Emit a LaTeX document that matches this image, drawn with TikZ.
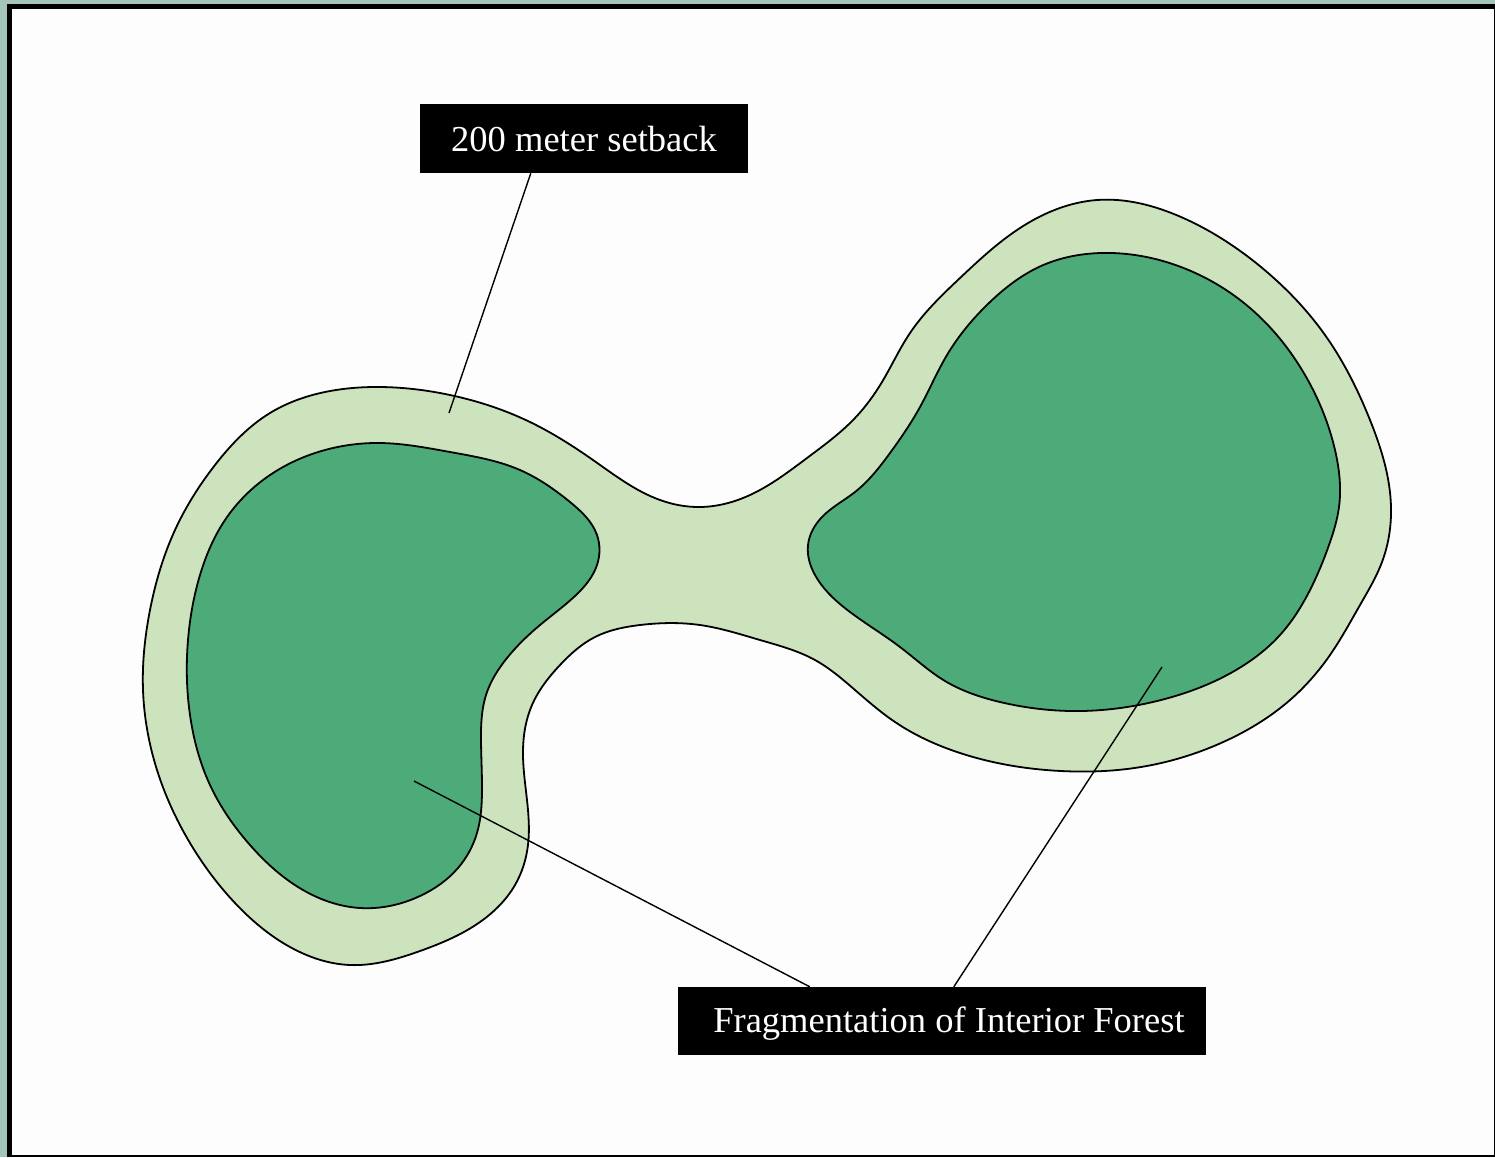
\documentclass[tikz,border=0pt]{standalone}
\usepackage{fontspec}
\setmainfont{Liberation Serif}
\usetikzlibrary{calc,hobby}
\definecolor{frameteal}{HTML}{A4C6B8}
\definecolor{paper}{HTML}{FDFDFD}
\definecolor{setbackgreen}{HTML}{CDE3BE}
\definecolor{forestgreen}{HTML}{4DAB7A}
\tikzset{
  outline/.style={draw=black, line width=1.8pt, line join=round, use Hobby shortcut, closed=true},
  leader/.style={draw=black, line width=1.4pt},
  labelbox/.style={fill=black, text=white, inner sep=0pt, font=\fontsize{36.5}{42}\selectfont},
}
\begin{document}
\begin{tikzpicture}[x=1pt, y=-1pt]
\useasboundingbox (0,0) rectangle (1495,1157);
\fill[frameteal] (0,0) rectangle (1495,1157);
\fill[black] (7,4) rectangle (1495,1157);
\fill[paper] (12,9) rectangle (1494,1155);

% setback zone (outer band)
\draw[outline, fill=setbackgreen]
 (380,387) .. (450,395) .. (530,422) .. (593,460) .. (660,500) .. (700,507) .. (750,495) .. (807,458)
 .. (855,418) .. (882,382) .. (910,333) .. (960,278) .. (1020,228) .. (1097,200) .. (1181,217)
 .. (1261,267) .. (1325,335) .. (1370,420) .. (1391,507) .. (1382,562) .. (1360,605) .. (1330,655)
 .. (1290,700) .. (1221,743) .. (1141,767) .. (1061,771) .. (960,753) .. (895,722) .. (855,690) .. (815,660)
 .. (760,640) .. (700,625) .. (640,625) .. (595,637) .. (560,665) .. (532,705) .. (523,750) .. (527,800)
 .. (528,845) .. (515,885) .. (480,922) .. (420,951) .. (350,965) .. (290,947) .. (235,903) .. (190,843)
 .. (157,770) .. (143,690) .. (150,610) .. (175,530) .. (215,465) .. (270,413) .. (325,392);

% interior forest, left
\draw[outline, fill=forestgreen]
 (380,443) .. (450,452) .. (520,470) .. (570,502) .. (597,535) .. (597,565) .. (575,596) .. (540,625)
 .. (507,658) .. (486,695) .. (481,740) .. (482,790) .. (477,833) .. (458,868) .. (420,896) .. (360,908)
 .. (303,890) .. (250,845) .. (210,785) .. (190,715) .. (188,640) .. (200,575) .. (225,520) .. (270,475)
 .. (325,450);

% interior forest, right
\draw[outline, fill=forestgreen]
 (1101,253) .. (1181,267) .. (1250,308) .. (1305,375) .. (1335,450) .. (1339,507) .. (1329,545)
 .. (1310,590) .. (1280,635) .. (1241,667) .. (1161,700) .. (1081,711) .. (1000,702) .. (945,681) .. (900,647)
 .. (850,612) .. (818,580) .. (808,545) .. (822,517) .. (855,492) .. (890,453) .. (920,407) .. (947,355)
 .. (990,302) .. (1041,266);

% labels
\node[labelbox, minimum width=328pt, minimum height=69pt] (setback) at (584,138.5) {\raisebox{-1pt}[\height][\depth]{200 meter setback}};
\node[labelbox, minimum width=528pt, minimum height=68pt] (frag) at (942,1021) {\hspace*{14pt}\raisebox{-3pt}[\height][\depth]{Fragmentation of Interior Forest}};

% leader end points
\coordinate (bandpt) at (449,413);
\coordinate (leftpt) at (414,781);
\coordinate (rightpt) at (1162,667);

\draw[leader] ($(setback.south west)+(111,0)$) -- (bandpt);
\draw[leader] ($(frag.north west)+(132,0)$) -- (leftpt);
\draw[leader] ($(frag.north west)+(276,0)$) -- (rightpt);
\end{tikzpicture}
\end{document}
